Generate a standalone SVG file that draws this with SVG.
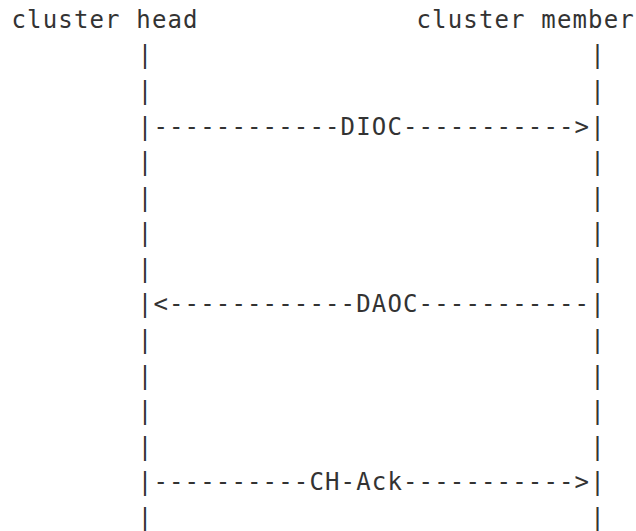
<svg xmlns="http://www.w3.org/2000/svg" width="636" height="531" viewBox="0 0 636 531">
<style>
  text { font-family: "DejaVu Sans Mono", "Liberation Mono", monospace; font-size: 24px; letter-spacing: 1.15px; fill: #333333; white-space: pre; }
</style>
<rect x="0" y="0" width="636" height="531" fill="#ffffff"/>
<g id="cluster-head">
  <text x="11.5" y="27.8">cluster head</text>
  <text x="137.8" y="63.4">|</text>
  <text x="137.8" y="99">|</text>
  <text x="137.8" y="170.1">|</text>
  <text x="137.8" y="205.7">|</text>
  <text x="137.8" y="241.3">|</text>
  <text x="137.8" y="276.8">|</text>
  <text x="137.8" y="348">|</text>
  <text x="137.8" y="383.6">|</text>
  <text x="137.8" y="419.1">|</text>
  <text x="137.8" y="454.7">|</text>
  <text x="137.8" y="525.9">|</text>
</g>
<g id="cluster-member">
  <text x="416.5" y="27.8">cluster member</text>
  <text x="590.2" y="63.4">|</text>
  <text x="590.2" y="99">|</text>
  <text x="590.2" y="170.1">|</text>
  <text x="590.2" y="205.7">|</text>
  <text x="590.2" y="241.3">|</text>
  <text x="590.2" y="276.8">|</text>
  <text x="590.2" y="348">|</text>
  <text x="590.2" y="383.6">|</text>
  <text x="590.2" y="419.1">|</text>
  <text x="590.2" y="454.7">|</text>
  <text x="590.2" y="525.9">|</text>
</g>
<g id="connectors">
  <text id="msg-dioc" x="137.8" y="134.5">|------------DIOC----------->|</text>
  <text id="msg-daoc" x="137.8" y="312.4">|&lt;------------DAOC-----------|</text>
  <text id="msg-chack" x="137.8" y="490.3">|----------CH-Ack----------->|</text>
</g>
</svg>
